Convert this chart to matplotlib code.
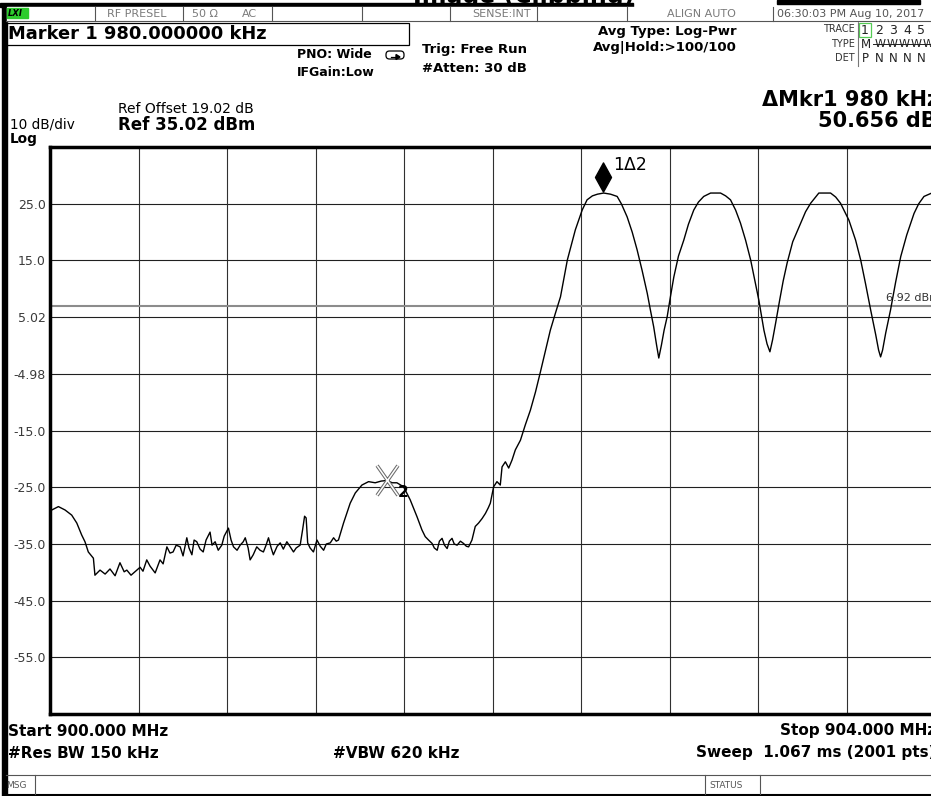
import numpy as np
import matplotlib
matplotlib.use("Agg")
import matplotlib.pyplot as plt
from matplotlib.path import Path
from matplotlib.patches import Rectangle, FancyBboxPatch, Polygon
import matplotlib.transforms as mtransforms

plt.rcParams['font.family'] = ['DejaVu Sans']

W, H = 931, 796

# ---------------- data ----------------
start_mhz, stop_mhz = 900.0, 904.0
ref_level = 35.02
db_per_div = 10
ytick_values = [25.02, 15.02, 5.02, -4.98, -14.98, -24.98, -34.98, -44.98, -54.98]
ytick_labels = ['25.0', '15.0', '5.02', '-4.98', '-15.0', '-25.0', '-35.0', '-45.0', '-55.0']
display_line = 6.92
mkr1_freq, mkr1_level = 902.50, 26.9
mkr2_freq, mkr2_level = 901.522, -23.76

freq = [900.000, 900.008, 900.038, 900.068, 900.098, 900.121, 900.143, 900.158, 900.173, 900.196,
        900.203, 900.226, 900.249, 900.271, 900.294, 900.316, 900.335, 900.347, 900.366, 900.392,
        900.407, 900.420, 900.437, 900.452, 900.475, 900.497, 900.511, 900.528, 900.542, 900.556,
        900.570, 900.588, 900.601, 900.618, 900.628, 900.641, 900.651, 900.663, 900.678, 900.692,
        900.705, 900.723, 900.732, 900.746, 900.760, 900.776, 900.787, 900.806, 900.818, 900.829,
        900.845, 900.859, 900.873, 900.882, 900.895, 900.904, 900.918, 900.934, 900.949, 900.964,
        900.976, 900.987, 900.999, 901.009, 901.026, 901.040, 901.054, 901.070, 901.085, 901.100,
        901.112, 901.130, 901.141, 901.150, 901.157, 901.164, 901.175, 901.190, 901.206, 901.221,
        901.236, 901.248, 901.266, 901.281, 901.293, 901.303, 901.326, 901.356, 901.379, 901.409,
        901.439, 901.469, 901.496, 901.522, 901.546, 901.567, 901.597, 901.627, 901.658, 901.680,
        901.695, 901.710, 901.726, 901.736, 901.749, 901.759, 901.771, 901.782, 901.794, 901.804,
        901.816, 901.826, 901.839, 901.854, 901.868, 901.881, 901.891, 901.906, 901.921, 901.936,
        901.952, 901.967, 901.980, 901.989, 902.004, 902.019, 902.034, 902.042, 902.057, 902.072,
        902.087, 902.102, 902.125, 902.147, 902.170, 902.193, 902.215, 902.237, 902.260, 902.283,
        902.306, 902.337, 902.373, 902.404, 902.426, 902.450, 902.473, 902.501, 902.532, 902.562,
        902.581, 902.607, 902.630, 902.652, 902.675, 902.698, 902.712, 902.727, 902.740, 902.750,
        902.762, 902.774, 902.788, 902.803, 902.818, 902.839, 902.863, 902.884, 902.908, 902.929,
        902.953, 902.984, 903.006, 903.029, 903.052, 903.074, 903.097, 903.119, 903.142, 903.165,
        903.183, 903.202, 903.214, 903.225, 903.239, 903.252, 903.264, 903.278, 903.296, 903.312,
        903.330, 903.355, 903.391, 903.413, 903.436, 903.473, 903.504, 903.526, 903.549, 903.571,
        903.609, 903.639, 903.662, 903.684, 903.707, 903.730, 903.743, 903.752, 903.761, 903.775,
        903.797, 903.820, 903.843, 903.870, 903.903, 903.924, 903.948, 903.983, 904.000]

level = [-29.2, -29.0, -28.4, -29.0, -29.9, -31.3, -33.4, -34.6, -36.4, -37.5,
         -40.5, -39.6, -40.3, -39.4, -40.6, -38.3, -39.9, -39.6, -40.5, -39.6,
         -39.1, -39.8, -37.8, -38.9, -40.1, -37.8, -38.5, -35.5, -36.6, -36.4,
         -35.2, -35.5, -37.1, -33.9, -35.7, -36.9, -34.3, -34.6, -35.9, -36.4,
         -34.3, -32.9, -35.2, -34.6, -36.1, -35.2, -33.6, -32.2, -34.3, -35.5,
         -36.1, -35.2, -34.6, -33.9, -35.7, -37.8, -36.9, -35.5, -36.1, -36.4,
         -35.2, -33.9, -35.7, -36.9, -35.4, -34.8, -35.9, -34.6, -35.5, -36.4,
         -35.7, -35.2, -32.5, -30.1, -30.4, -34.8, -35.7, -36.4, -34.3, -35.4,
         -36.1, -35.0, -34.8, -33.9, -34.5, -34.3, -31.3, -27.8, -26.0, -24.6,
         -24.0, -24.2, -23.9, -23.8, -24.2, -24.2, -24.9, -27.2, -30.2, -32.5,
         -33.7, -34.3, -34.9, -35.7, -36.1, -34.5, -34.0, -35.2, -35.8, -34.5,
         -34.0, -35.0, -35.2, -34.5, -34.9, -35.4, -35.5, -34.3, -31.9, -31.3,
         -30.5, -29.6, -28.6, -27.8, -24.9, -24.0, -24.6, -21.4, -20.5, -21.6,
         -20.2, -18.4, -16.7, -14.0, -11.4, -8.2, -4.7, -1.1, 2.7, 5.7,
         8.6, 15.1, 20.4, 23.9, 25.7, 26.4, 26.7, 26.9, 26.7, 26.3,
         25.0, 22.7, 20.0, 16.9, 13.2, 9.2, 6.3, 3.3, 0.1, -2.2,
         0.1, 2.7, 5.1, 8.7, 12.1, 15.8, 18.6, 21.4, 23.9, 25.3,
         26.3, 26.9, 26.9, 26.9, 26.4, 25.7, 23.9, 21.6, 18.6, 15.1,
         11.6, 8.0, 5.2, 2.7, 0.3, -1.1, 1.0, 4.0, 8.0, 11.4,
         14.6, 18.3, 21.6, 23.6, 25.1, 26.9, 26.9, 26.9, 26.2, 25.1,
         22.1, 18.6, 15.1, 10.9, 6.3, 1.9, -0.8, -2.0, -0.8, 2.2,
         6.3, 11.2, 15.7, 19.5, 23.3, 25.0, 26.3, 26.9, 26.7]

assert len(freq) == len(level)

# ---------------- figure ----------------
fig = plt.figure(figsize=(W / 100, H / 100), dpi=100)
fig.patch.set_facecolor('white')

ax = fig.add_axes([50 / W, (H - 714) / H, 885.5 / W, 567 / H])
ax.set_xlim(start_mhz, stop_mhz)
ax.set_ylim(ref_level - 10 * db_per_div, ref_level)
for k in range(1, 10):
    ax.axvline(start_mhz + k * (stop_mhz - start_mhz) / 10, color='#303030', lw=0.8, zorder=1)
    ax.axhline(ref_level - k * db_per_div, color='#202020', lw=0.8, zorder=1)
ax.set_xticks([])
ax.set_yticks(ytick_values, ytick_labels)
ax.tick_params(axis='y', length=0, pad=3, labelsize=9, labelcolor='#3a3a3a')
for side in ['left', 'top', 'bottom']:
    ax.spines[side].set_linewidth(2.5)
    ax.spines[side].set_color('black')
ax.spines['right'].set_visible(False)

ax.axhline(display_line, color='#8c8c8c', lw=1.5, zorder=2)
ax.text(903.775, 8.4, '6.92 dBm', fontsize=8, color='#333333', va='center', ha='left', zorder=6)

ax.plot(freq, level, color='black', lw=1.0, zorder=5)

# marker 1 (diamond above the peak)
diamond = Path([(0, 1), (0.55, 0), (0, -1), (-0.55, 0), (0, 1)],
               [Path.MOVETO, Path.LINETO, Path.LINETO, Path.LINETO, Path.CLOSEPOLY])
tr_up = ax.transData + mtransforms.ScaledTranslation(0, 16 / 100, fig.dpi_scale_trans)
ax.plot([mkr1_freq], [mkr1_level], marker=diamond, ms=21, color='black', transform=tr_up, zorder=7)
tr_lab1 = ax.transData + mtransforms.ScaledTranslation(10 / 100, 28 / 100, fig.dpi_scale_trans)
ax.text(mkr1_freq, mkr1_level, '1\u03942', fontsize=12.5, ha='left', va='center',
        transform=tr_lab1, zorder=7)

# marker 2 (hollow X)
xpath = Path([(-0.35, -0.5), (0.35, 0.5), (-0.35, 0.5), (0.35, -0.5)],
             [Path.MOVETO, Path.LINETO, Path.MOVETO, Path.LINETO])
ax.plot([mkr2_freq], [mkr2_level], marker=xpath, ms=21.5, mec='#6a6a6a', mew=2.6,
        mfc='none', ls='none', zorder=7)
ax.plot([mkr2_freq], [mkr2_level], marker=xpath, ms=21.5, mec='white', mew=1.1,
        mfc='none', ls='none', zorder=8)
tr_lab2 = ax.transData + mtransforms.ScaledTranslation(16 / 100, -12 / 100, fig.dpi_scale_trans)
ax.text(mkr2_freq, mkr2_level, '2', fontsize=11, fontweight='bold', ha='center', va='center',
        transform=tr_lab2, zorder=8)

# ---------------- overlay (instrument screen furniture) ----------------
ov = fig.add_axes([0, 0, 1, 1], zorder=10)
ov.set_xlim(0, W)
ov.set_ylim(H, 0)
ov.axis('off')
ov.patch.set_alpha(0)


def T(x, y, s, size=9, weight='normal', ha='left', va='center', color='black', **kw):
    ov.text(x, y, s, fontsize=size, fontweight=weight, ha=ha, va=va, color=color, **kw)


# left bar and top
ov.add_patch(Rectangle((2, 4), 4.5, 792, color='black'))
ov.add_patch(Rectangle((0, 3), 633, 4, color='black'))
ov.add_patch(Rectangle((777, 0), 143, 4, color='black'))
# cropped caption above the screen (only its lower edge is visible)
ov.text(634, 3.5, 'Image (Clipping)', fontsize=17, fontweight='bold',
        ha='right', va='baseline', color='black')
# status bar
ov.add_patch(Rectangle((6.5, 7), 925, 13.5, color='white', zorder=3))
ov.plot([6, 931], [20.5, 20.5], color='#555555', lw=0.8, zorder=4)
for xs in [95, 183, 272, 362, 450, 537, 627, 773]:
    ov.plot([xs, xs], [7, 20.5], color='#555555', lw=0.8, zorder=4)
ov.add_patch(Rectangle((6.5, 8), 21, 10, color='#2ecc2e', zorder=4))
ov.text(8, 13, 'LXI', fontsize=6, fontweight='bold', style='italic', va='center', zorder=5)
gray = '#7a7a7a'
for xs, s in [(107, 'RF PRESEL'), (192, '50 \u03a9'), (242, 'AC'), (472, 'SENSE:INT'),
              (667, 'ALIGN AUTO')]:
    ov.text(xs, 14, s, fontsize=8, color=gray, va='center', zorder=5)
ov.text(777, 14, '06:30:03 PM Aug 10, 2017', fontsize=8, color='#555555', va='center', zorder=5)

# marker readout box
ov.add_patch(Rectangle((6, 23), 403, 22, fill=False, ec='black', lw=0.9))
T(8, 34, 'Marker 1 980.000000 kHz', size=12.9, weight='bold')

T(297, 55, 'PNO: Wide', size=9, weight='bold')
T(297, 72, 'IFGain:Low', size=9, weight='bold')
ov.add_patch(FancyBboxPatch((386, 51), 18, 8, boxstyle='round,pad=0,rounding_size=3.5',
                            fill=False, ec='black', lw=0.9))
ov.plot([391, 397], [57, 57], color='black', lw=0.9)
ov.add_patch(Polygon([(396, 54.5), (400, 57), (396, 59.5)], closed=True, color='black'))

T(422, 49, 'Trig: Free Run', size=9.5, weight='bold')
T(422, 69, '#Atten: 30 dB', size=9.5, weight='bold')
T(598, 31, 'Avg Type: Log-Pwr', size=9.5, weight='bold')
T(593, 48, 'Avg|Hold:>100/100', size=9.5, weight='bold')

# trace panel
T(855, 29, 'TRACE', size=7, ha='right', color='#333333')
T(855, 44, 'TYPE', size=7, ha='right', color='#333333')
T(855, 58, 'DET', size=7, ha='right', color='#333333')
ov.plot([858, 858], [22, 66], color='#777777', lw=0.8)
ov.add_patch(Rectangle((859, 23), 12, 14, fill=False, ec='#55cc55', lw=0.9))
for i, s in enumerate(['1', '2', '3', '4', '5', '6']):
    T(865 + 14 * i, 30, s, size=9, ha='center', color='#222222')
T(866, 44, 'M', size=8.5, ha='center', color='#222222')
for i in range(5):
    T(880 + 12 * i, 44, 'W', size=8, ha='center', color='#222222')
ov.plot([873, 931], [43.5, 43.5], color='#222222', lw=0.7)
for i, s in enumerate(['P', 'N', 'N', 'N', 'N', 'N']):
    T(865 + 14 * i, 58, s, size=8.5, ha='center', color='#222222')

# reference info
T(118, 109, 'Ref Offset 19.02 dB', size=10)
T(118, 125, 'Ref 35.02 dBm', size=12, weight='bold')
T(10, 125, '10 dB/div', size=9.8)
T(10, 139, 'Log', size=9.8, weight='bold')
T(939, 100, '\u0394Mkr1 980 kHz', size=15, weight='bold', ha='right')
T(937, 121, '50.656 dB', size=15, weight='bold', ha='right')

# footer
T(8, 731, 'Start 900.000 MHz', size=11, weight='bold')
T(936, 731, 'Stop 904.000 MHz', size=11, weight='bold', ha='right')
T(8, 753, '#Res BW 150 kHz', size=11, weight='bold')
T(333, 753, '#VBW 620 kHz', size=11, weight='bold')
T(935, 753, 'Sweep  1.067 ms (2001 pts)', size=11, weight='bold', ha='right')
ov.plot([6, 931], [775, 775], color='#555555', lw=0.8)
ov.plot([6, 931], [794.5, 794.5], color='black', lw=1.5)
ov.plot([35, 35], [775, 794], color='#555555', lw=0.8)
ov.plot([705, 705], [775, 794], color='#555555', lw=0.8)
ov.plot([760, 760], [775, 794], color='#555555', lw=0.8)
T(6, 786, 'MSG', size=6.5, color='#555555')
T(709, 786, 'STATUS', size=6.5, color='#555555')

fig.savefig('out.png', dpi=100, facecolor='white')
